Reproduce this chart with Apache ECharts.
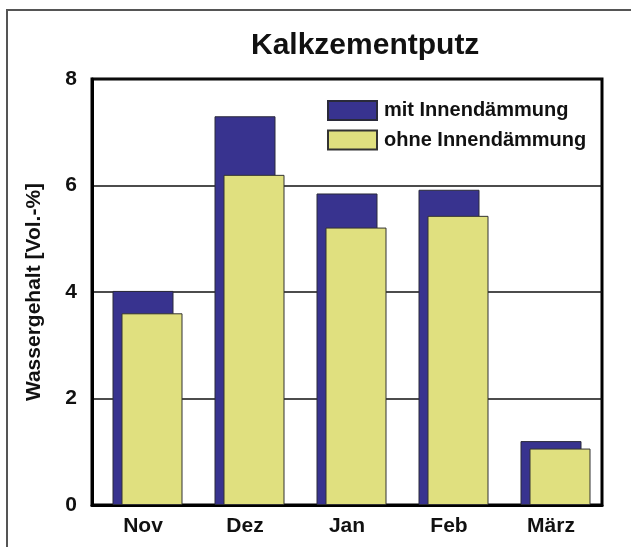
<!DOCTYPE html>
<html>
<head>
<meta charset="utf-8">
<script src="https://cdn.jsdelivr.net/npm/echarts@6/dist/echarts.min.js"></script>
<style>html,body{margin:0;padding:0;background:#fff;}#c{width:631px;height:547px;}</style>
</head>
<body>
<div id="c"></div>
<script>
var categories = ['Nov', 'Dez', 'Jan', 'Feb', 'März'];
var mitValues = [4.02, 7.3, 5.85, 5.92, 1.2];
var ohneValues = [3.6, 6.2, 5.21, 5.43, 1.06];
var yTicks = [0, 2, 4, 6, 8];
var titleText = 'Kalkzementputz';
var yName = 'Wassergehalt [Vol.-%]';
var seriesNames = ['mit Innendämmung', 'ohne Innendämmung'];

var chart = echarts.init(document.getElementById('c'));
var font = 'Liberation Sans, Arial, sans-serif';
var barW = 61;
var gap = (9 / barW - 1) * 100 + '%';
chart.setOption({
  animation: false,
  backgroundColor: '#fff',
  graphic: [{
    type: 'rect', shape: { x: 7, y: 10, width: 700, height: 700 },
    style: { fill: 'none', stroke: '#555', lineWidth: 2 }, silent: true
  }],
  title: {
    text: titleText, left: 246, top: 26,
    textStyle: { fontFamily: font, fontSize: 30, fontWeight: 'bold', color: '#111' }
  },
  legend: {
    data: seriesNames, orient: 'vertical', left: 322, top: 95,
    icon: 'rect',
    itemWidth: 49, itemHeight: 19, itemGap: 8.5,
    textStyle: { fontFamily: font, fontSize: 20, fontWeight: 'bold', color: '#111', padding: [0, 0, 0, 2] },
    selectedMode: false
  },
  grid: { left: 92, right: 29, top: 79, bottom: 42, show: true, borderColor: '#000', borderWidth: 3, backgroundColor: 'transparent' },
  xAxis: {
    type: 'category', data: categories,
    axisLine: { show: true, lineStyle: { color: '#000', width: 3 } },
    axisTick: { show: false },
    axisLabel: { fontFamily: font, fontSize: 21, fontWeight: 'bold', color: '#111', margin: 11 }
  },
  yAxis: {
    type: 'value', min: yTicks[0], max: yTicks[yTicks.length - 1], interval: 2,
    name: yName, nameLocation: 'middle', nameGap: 47,
    nameTextStyle: { fontFamily: font, fontSize: 21, fontWeight: 'bold', color: '#111' },
    axisLine: { show: true, lineStyle: { color: '#000', width: 3 } },
    axisTick: { show: false },
    axisLabel: { fontFamily: font, fontSize: 21, fontWeight: 'bold', color: '#111', margin: 15 },
    splitLine: { lineStyle: { color: '#111', width: 1.5 } }
  },
  series: [
    { name: '_pad', type: 'bar', data: [], barWidth: barW, barGap: gap, silent: true },
    { name: seriesNames[0], type: 'bar', data: mitValues, barWidth: barW, barGap: gap,
      itemStyle: { color: '#38338f', borderColor: '#2a2a3a', borderWidth: 1 } },
    { name: seriesNames[1], type: 'bar', data: ohneValues, barWidth: barW, barGap: gap,
      itemStyle: { color: '#e0e07f', borderColor: '#333', borderWidth: 1 } }
  ]
});
</script>
</body>
</html>
